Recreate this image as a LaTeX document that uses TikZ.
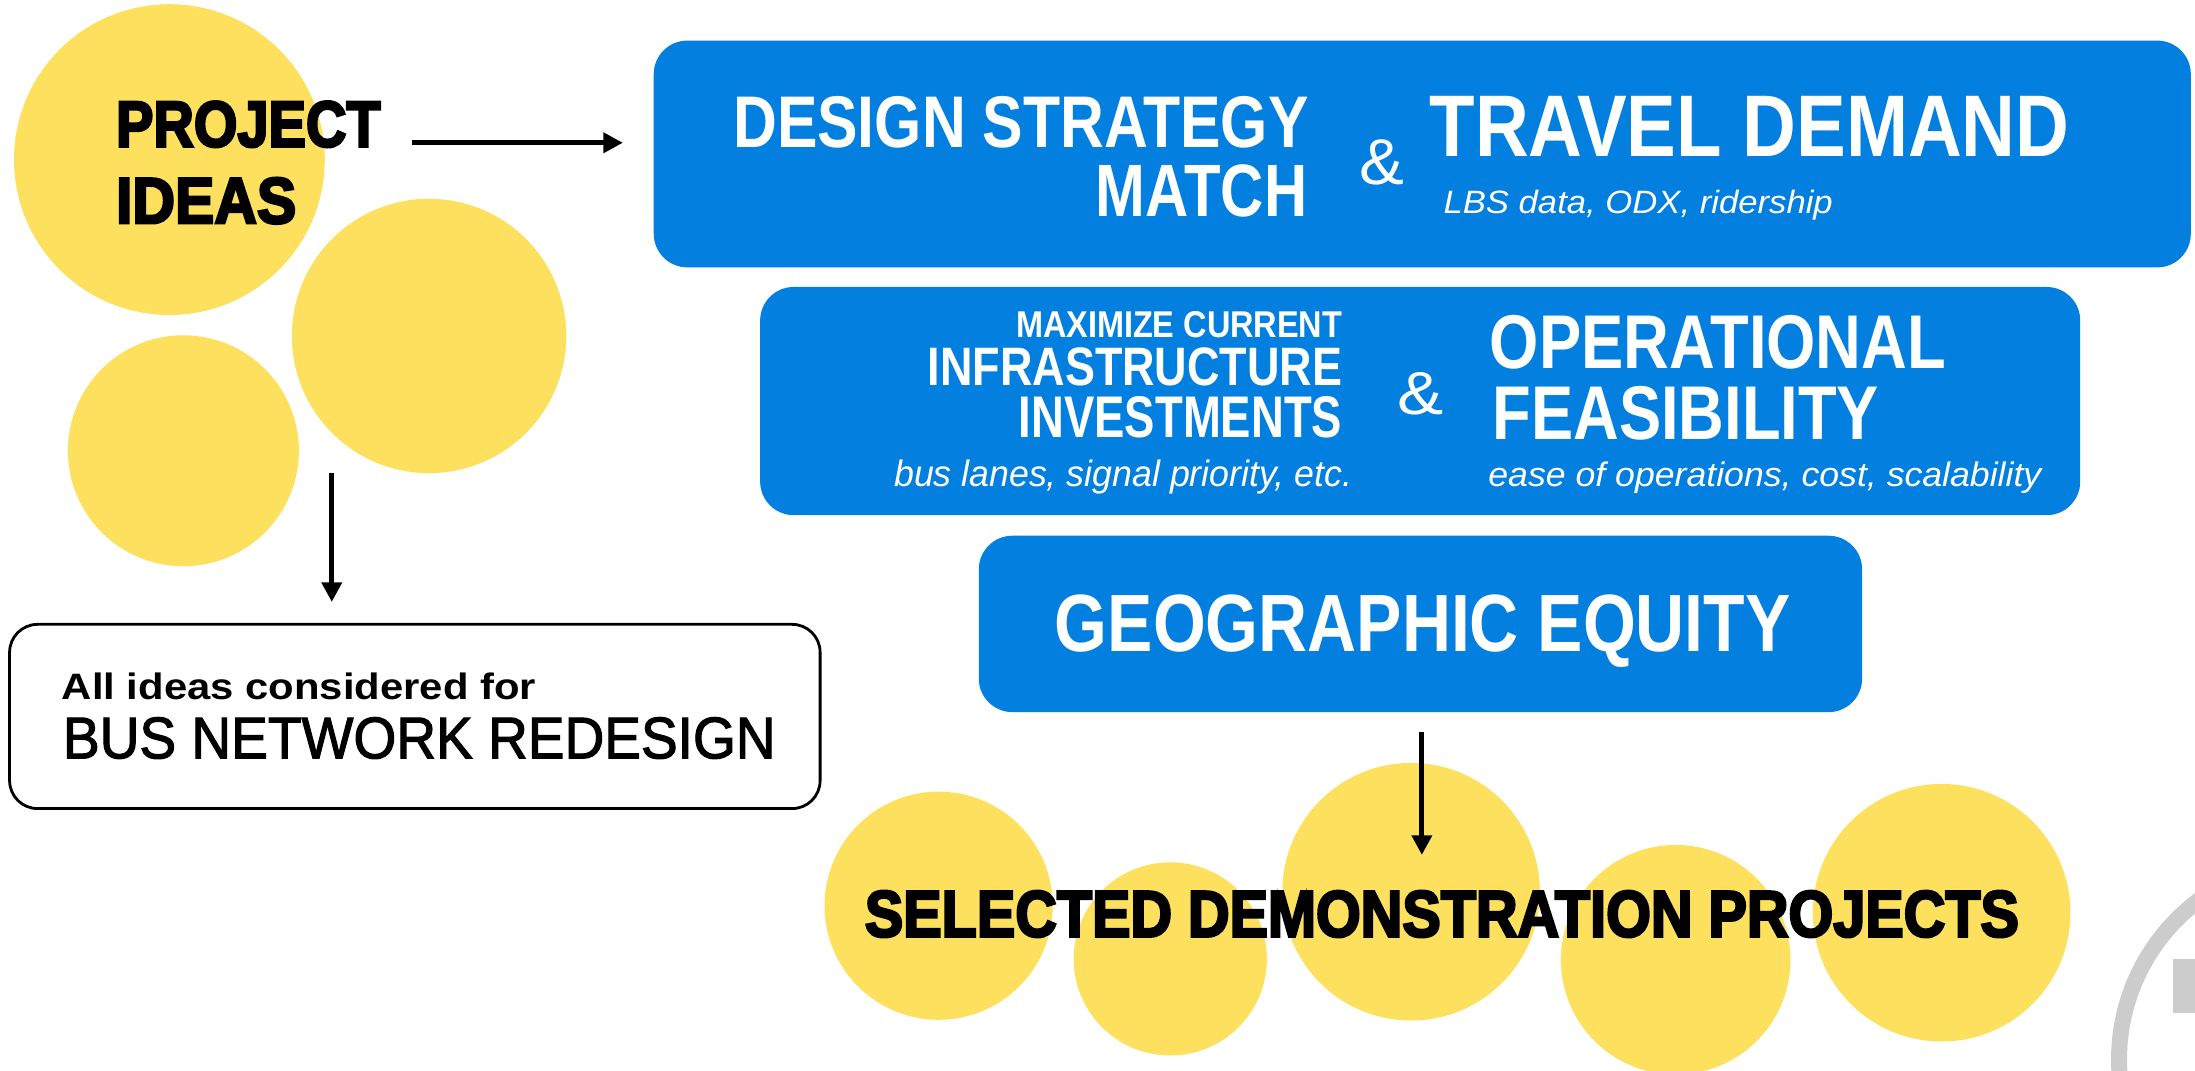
\documentclass[tikz,border=0pt]{standalone}
\usepackage{fontspec}
\setmainfont{Liberation Sans}
\newfontfamily\heavyfont[FakeBold=4]{Liberation Sans Bold}
\newfontfamily\mediumfont[FakeBold=2]{Liberation Sans}
\usetikzlibrary{arrows.meta}
\definecolor{ideayellow}{HTML}{FDE05E}
\definecolor{boxblue}{HTML}{027FDF}
\definecolor{ringgray}{HTML}{CCCCCC}
\newcommand{\fitto}[3]{\resizebox{#1pt}{#2pt}{#3}}
\begin{document}
\begin{tikzpicture}[x=1pt,y=-1pt,
  idea/.style={circle, fill=ideayellow, inner sep=0pt, minimum size=#1},
  bluebox/.style={fill=boxblue, rounded corners=24pt, inner sep=0pt},
  boxtext/.style={text=white, inner sep=0pt},
  plaintext/.style={text=black, inner sep=0pt},
  arrowline/.style={line width=3.5pt, -{Triangle[length=14pt,width=14pt]}}]
\useasboundingbox (0,0) rectangle (1568,765);
\fill[white] (0,0) rectangle (1568,765);

% yellow idea circles
\node[idea=222pt] (c1) at (121,114) {};
\node[idea=196pt] (c2) at (306.5,240) {};
\node[idea=165pt] (c3) at (131,322) {};
\node[idea=163pt] (d1) at (670.5,647) {};
\node[idea=138pt] (d2) at (836,685) {};
\node[idea=184pt] (d3) at (1008,637) {};
\node[idea=164pt] (d4) at (1197,685.6) {};
\node[idea=184pt] (d5) at (1387,652) {};

% blue boxes
\node[bluebox, minimum width=1098pt, minimum height=162pt] (boxA) at (1016,110) {};
\node[bluebox, minimum width=943pt, minimum height=163pt] (boxB) at (1014.5,286.5) {};
\node[bluebox, minimum width=631pt, minimum height=126pt] (boxC) at (1014.7,445.7) {};

% outlined box
\node[draw=black, line width=2pt, fill=white, rounded corners=20pt, minimum width=579pt, minimum height=131.6pt, inner sep=0pt] (ideasbox) at (296.35,511.8) {};

% texts in box A
\node[boxtext, anchor=base east] (t1) at (935,105.5) {\fitto{411}{36.5}{\bfseries DESIGN STRATEGY}};
\node[boxtext, anchor=base east] (t2) at (934,155) {\fitto{151}{37}{\bfseries MATCH}};
\node[boxtext, anchor=base west] (amp1) at (971,132) {\fitto{32}{32}{\&}};
\node[boxtext, anchor=base west] (t3) at (1021,112) {\fitto{457}{43}{\bfseries TRAVEL DEMAND}};
\node[boxtext, anchor=base west] (t4) at (1031,152.4) {\fitto{278}{16.7}{\itshape LBS data, ODX, ridership}};

% texts in box B
\node[boxtext, anchor=base east] (t5) at (959,241.2) {\fitto{233}{18.6}{\bfseries MAXIMIZE CURRENT}};
\node[boxtext, anchor=base east] (t6) at (959,275.7) {\fitto{296}{27}{\bfseries INFRASTRUCTURE}};
\node[boxtext, anchor=base east] (t7) at (959,312.6) {\fitto{231}{29.3}{\bfseries INVESTMENTS}};
\node[boxtext, anchor=base east] (t8) at (966,347.6) {\fitto{327}{19}{\itshape bus lanes, signal priority, etc.}};
\node[boxtext, anchor=base west] (amp2) at (998,296.4) {\fitto{33}{30}{\&}};
\node[boxtext, anchor=base west] (t9) at (1064,263) {\fitto{326}{38}{\bfseries OPERATIONAL}};
\node[boxtext, anchor=base west] (t10) at (1066,314) {\fitto{276}{38}{\bfseries FEASIBILITY}};
\node[boxtext, anchor=base west] (t11) at (1063,347.6) {\fitto{395}{17.6}{\itshape ease of operations, cost, scalability}};

% text in box C
\node[boxtext, anchor=base west] (t12) at (753.4,465.5) {\fitto{525.4}{40.5}{\bfseries GEOGRAPHIC EQUITY}};

% black texts
\node[plaintext, anchor=base west] (proj1) at (82.7,104.7) {\fitto{189}{32.3}{\heavyfont PROJECT}};
\node[plaintext, anchor=base west] (proj2) at (82.7,159.4) {\fitto{128.7}{32.4}{\heavyfont IDEAS}};
\node[plaintext, anchor=base west] (all1) at (44,499.5) {\fitto{338.6}{19}{\bfseries All ideas considered for}};
\node[plaintext, anchor=base west] (all2) at (44.8,541.7) {\fitto{509}{29.3}{\mediumfont BUS NETWORK REDESIGN}};

% arrows
\coordinate (a1s) at (294.6,102);
\coordinate (a1e) at (445,102);
\coordinate (a2s) at (237,338);
\coordinate (a2e) at (237,430);
\coordinate (a3s) at (1015.7,523);
\coordinate (a3e) at (1015.7,610.7);
\draw[arrowline] (a1s) -- (a1e);
\draw[arrowline] (a2s) -- (a2e);
\draw[arrowline] (a3s) -- (a3e);

\node[plaintext, anchor=base west] (sel) at (617.6,669) {\fitto{824.4}{32.6}{\heavyfont SELECTED DEMONSTRATION PROJECTS}};

% partial gray logo at bottom right
\begin{scope}
\clip (0,0) rectangle (1568,765);
\draw[ringgray, line width=11.4pt] (1656,757) circle[radius=142.3];
\fill[ringgray] (1552.4,685) rectangle (1570,723.8);
\end{scope}
\end{tikzpicture}
\end{document}
